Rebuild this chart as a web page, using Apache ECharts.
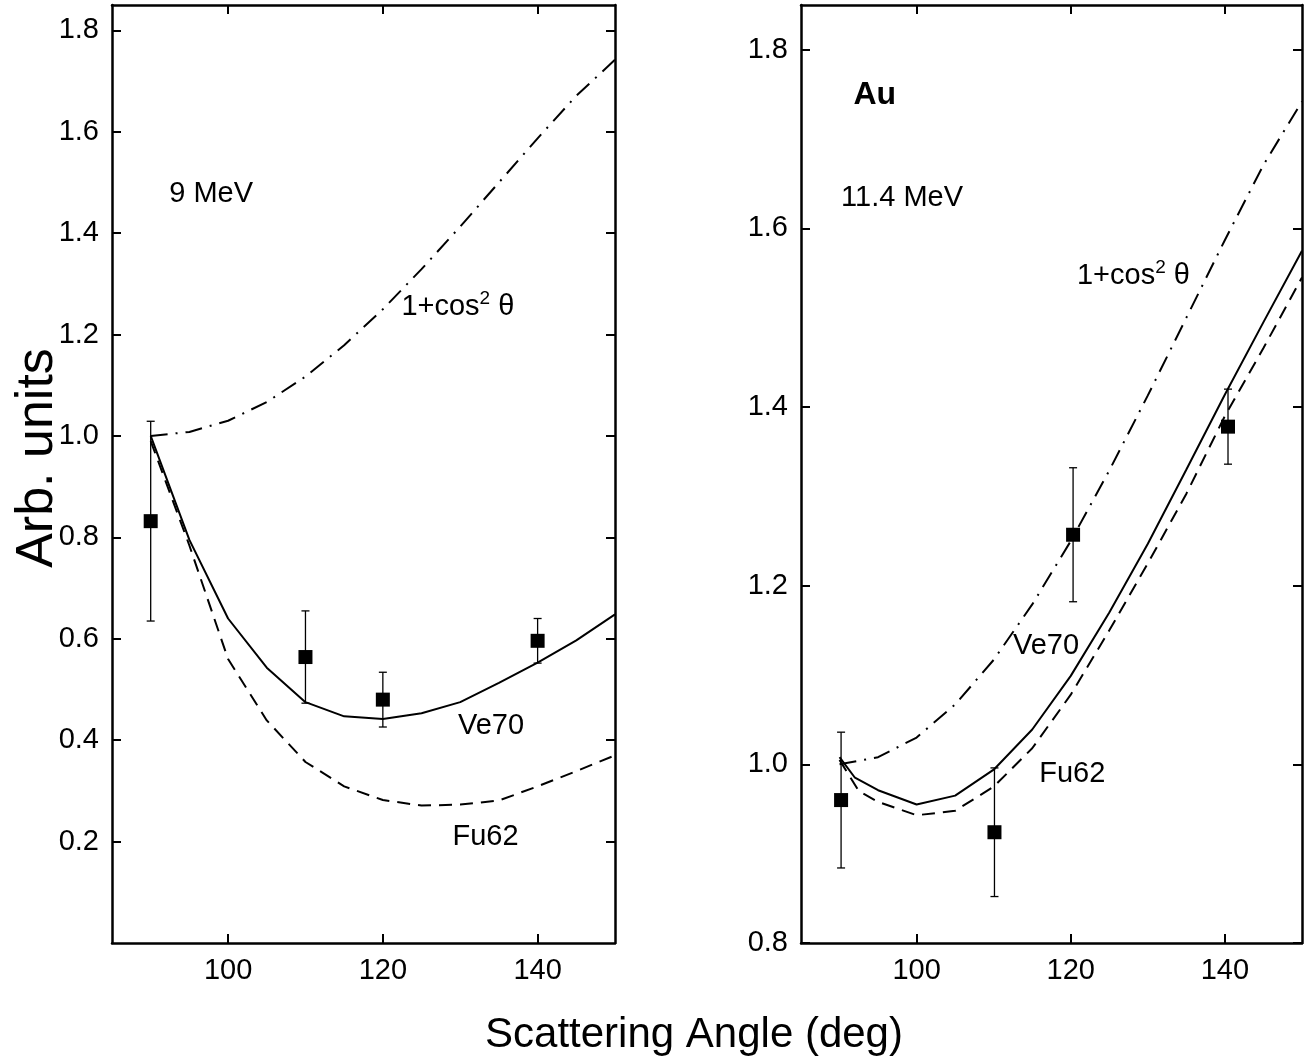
<!DOCTYPE html>
<html><head><meta charset="utf-8">
<script src="https://cdn.jsdelivr.net/npm/echarts@6.0.0/dist/echarts.min.js"></script>
<style>html,body{margin:0;padding:0;background:#fff}#c{width:1311px;height:1061px}</style>
</head><body><div id="c"></div>
<script>
// ---------- tick labels ----------
const xTicks = [100, 120, 140];
const yTicksLeft = [0.2, 0.4, 0.6, 0.8, 1.0, 1.2, 1.4, 1.6, 1.8];
const yTicksRight = [0.8, 1.0, 1.2, 1.4, 1.6, 1.8];

// ---------- left panel (9 MeV) ----------
const anglesL = [90, 95, 100, 105, 110, 115, 120, 125, 130, 135, 140, 145, 150];
const cos2L   = [1.000, 1.008, 1.030, 1.067, 1.117, 1.179, 1.250, 1.329, 1.413, 1.500, 1.587, 1.671, 1.742];
const ve70L   = [1.000, 0.795, 0.640, 0.543, 0.475, 0.447, 0.442, 0.453, 0.475, 0.513, 0.553, 0.597, 0.648];
const fu62L   = [0.990, 0.784, 0.560, 0.439, 0.357, 0.309, 0.282, 0.271, 0.273, 0.281, 0.309, 0.339, 0.370];
const ptsXL   = [90, 110, 120, 140];
const ptsYL   = [0.832, 0.564, 0.480, 0.596];
const errL    = [0.197, 0.091, 0.054, 0.044];

// ---------- right panel (Au, 11.4 MeV) ----------
const anglesCosR = [90, 95, 100, 105, 110, 115, 120, 125, 130, 135, 140, 145, 150];
const cos2R      = [1.000, 1.008, 1.030, 1.067, 1.117, 1.179, 1.250, 1.329, 1.413, 1.500, 1.587, 1.671, 1.742];
const anglesVeR  = [90, 92, 95, 100, 105, 110, 115, 120, 125, 130, 135, 140, 145, 150];
const ve70R      = [1.008, 0.985, 0.971, 0.955, 0.965, 0.994, 1.039, 1.099, 1.170, 1.247, 1.330, 1.414, 1.495, 1.575];
const anglesFuR  = [90, 92.5, 95, 100, 105, 110, 115, 120, 125, 130, 135, 140, 145, 150];
const fu62R      = [1.005, 0.970, 0.958, 0.943, 0.948, 0.975, 1.018, 1.078, 1.150, 1.225, 1.303, 1.390, 1.466, 1.545];
const ptsXR      = [90.2, 110.1, 120.3, 140.4];
const ptsYR      = [0.960, 0.924, 1.257, 1.378];
const errR       = [0.076, 0.072, 0.075, 0.042];

// ---------- annotations (data coordinates) ----------
const notesL = [
  [92.4, 1.478, '9 MeV'],
  [122.4, 1.255, '{a|1+cos}{s|2}{a| θ}'],
  [129.7, 0.428, 'Ve70'],
  [129.0, 0.210, 'Fu62']
];
const notesR = [
  [91.8, 1.749, '{b|Au}'],
  [90.2, 1.634, '11.4 MeV'],
  [120.8, 1.547, '{a|1+cos}{s|2}{a| θ}'],
  [112.5, 1.132, 'Ve70'],
  [115.9, 0.989, 'Fu62']
];

const FONT = 'Liberation Sans, Arial, Helvetica, sans-serif';
const FS = 29;

function zip(xs, ys) { return xs.map((x, i) => [x, ys[i]]); }

function xAx(grid, pos, showLabel) {
  return {
    type: 'value', gridIndex: grid, position: pos, min: 85, max: 150,
    axisLine: { show: true, onZero: false, lineStyle: { color: '#000', width: 2.5 } },
    axisTick: { show: true, inside: true, length: 9, customValues: xTicks, lineStyle: { color: '#000', width: 2 } },
    axisLabel: { show: showLabel, customValues: xTicks, color: '#000', fontSize: FS, fontFamily: FONT, margin: 13 },
    splitLine: { show: false }
  };
}
function yAx(grid, pos, showLabel, min, ticks) {
  return {
    type: 'value', gridIndex: grid, position: pos, min: min, max: 1.85,
    axisLine: { show: true, onZero: false, lineStyle: { color: '#000', width: 2.5 } },
    axisTick: { show: true, inside: true, length: 9, customValues: ticks, lineStyle: { color: '#000', width: 2 } },
    axisLabel: { show: showLabel, customValues: ticks, color: '#000', fontSize: FS, fontFamily: FONT, margin: 13,
      formatter: v => Number(v).toFixed(1) },
    splitLine: { show: false }
  };
}

function lineSeries(xi, yi, data, type) {
  return {
    type: 'line', xAxisIndex: xi, yAxisIndex: yi, data: data, showSymbol: false, symbol: 'none',
    smooth: false, silent: true, z: 3,
    lineStyle: { color: '#000', width: 2, type: type, opacity: 1 }
  };
}
function pointSeries(xi, yi, xs, ys) {
  return {
    type: 'scatter', xAxisIndex: xi, yAxisIndex: yi, data: zip(xs, ys), symbol: 'rect', symbolSize: 14,
    itemStyle: { color: '#000', opacity: 1 }, z: 5, silent: true
  };
}
function errSeries(xi, yi, xs, ys, es) {
  return {
    type: 'custom', xAxisIndex: xi, yAxisIndex: yi, z: 4, silent: true,
    data: xs.map((x, i) => [x, ys[i], es[i]]),
    renderItem: function (params, api) {
      const x = api.value(0), y = api.value(1), e = api.value(2);
      const t = api.coord([x, y + e]);
      const b = api.coord([x, y - e]);
      const h = 4;
      const st = { stroke: '#000', lineWidth: 1.3 };
      return {
        type: 'group', children: [
          { type: 'line', shape: { x1: t[0], y1: t[1], x2: b[0], y2: b[1] }, style: st },
          { type: 'line', shape: { x1: t[0] - h, y1: t[1], x2: t[0] + h, y2: t[1] }, style: st },
          { type: 'line', shape: { x1: b[0] - h, y1: b[1], x2: b[0] + h, y2: b[1] }, style: st }
        ]
      };
    }
  };
}
function noteSeries(xi, yi, notes) {
  return {
    type: 'scatter', xAxisIndex: xi, yAxisIndex: yi, symbolSize: 0, silent: true, z: 6,
    itemStyle: { opacity: 1 },
    data: notes,
    label: {
      show: true, position: 'right', distance: 0, color: '#000', opacity: 1, fontSize: FS, fontFamily: FONT,
      formatter: p => p.data[2],
      rich: {
        a: { fontSize: FS, fontFamily: FONT, color: '#000', lineHeight: 34 },
        s: { fontSize: 19, fontFamily: FONT, color: '#000', verticalAlign: 'top', lineHeight: 34, padding: [0, 0, 14, 0] },
        b: { fontSize: 32, fontWeight: 'bold', fontFamily: FONT, color: '#000' }
      }
    }
  };
}

const DASHDOT = [17, 8, 2, 8];
const DASH = [13, 8];

const chart = echarts.init(document.getElementById('c'), null, { renderer: 'canvas' });
chart.setOption({
  animation: false,
  backgroundColor: '#fff',
  grid: [
    { left: 112, top: 5, width: 503, height: 938 },
    { left: 801, top: 5, width: 501, height: 938 }
  ],
  xAxis: [xAx(0, 'bottom', true), xAx(0, 'top', false), xAx(1, 'bottom', true), xAx(1, 'top', false)],
  yAxis: [
    yAx(0, 'left', true, 0, yTicksLeft), yAx(0, 'right', false, 0, yTicksLeft),
    yAx(1, 'left', true, 0.8, yTicksRight), yAx(1, 'right', false, 0.8, yTicksRight)
  ],
  series: [
    lineSeries(0, 0, zip(anglesL, cos2L), DASHDOT),
    lineSeries(0, 0, zip(anglesL, ve70L), 'solid'),
    lineSeries(0, 0, zip(anglesL, fu62L), DASH),
    errSeries(0, 0, ptsXL, ptsYL, errL),
    pointSeries(0, 0, ptsXL, ptsYL),
    noteSeries(0, 0, notesL),
    lineSeries(2, 2, zip(anglesCosR, cos2R), DASHDOT),
    lineSeries(2, 2, zip(anglesVeR, ve70R), 'solid'),
    lineSeries(2, 2, zip(anglesFuR, fu62R), DASH),
    errSeries(2, 2, ptsXR, ptsYR, errR),
    pointSeries(2, 2, ptsXR, ptsYR),
    noteSeries(2, 2, notesR)
  ],
  graphic: [
    { type: 'text', x: 38, y: 458, rotation: Math.PI / 2,
      style: { text: 'Arb. units', fontSize: 52, fontFamily: FONT, fill: '#000', align: 'center', verticalAlign: 'middle' } },
    { type: 'text', x: 694, y: 1035,
      style: { text: 'Scattering Angle (deg)', fontSize: 42, fontFamily: FONT, fill: '#000', align: 'center', verticalAlign: 'middle' } }
  ]
});
</script></body></html>
